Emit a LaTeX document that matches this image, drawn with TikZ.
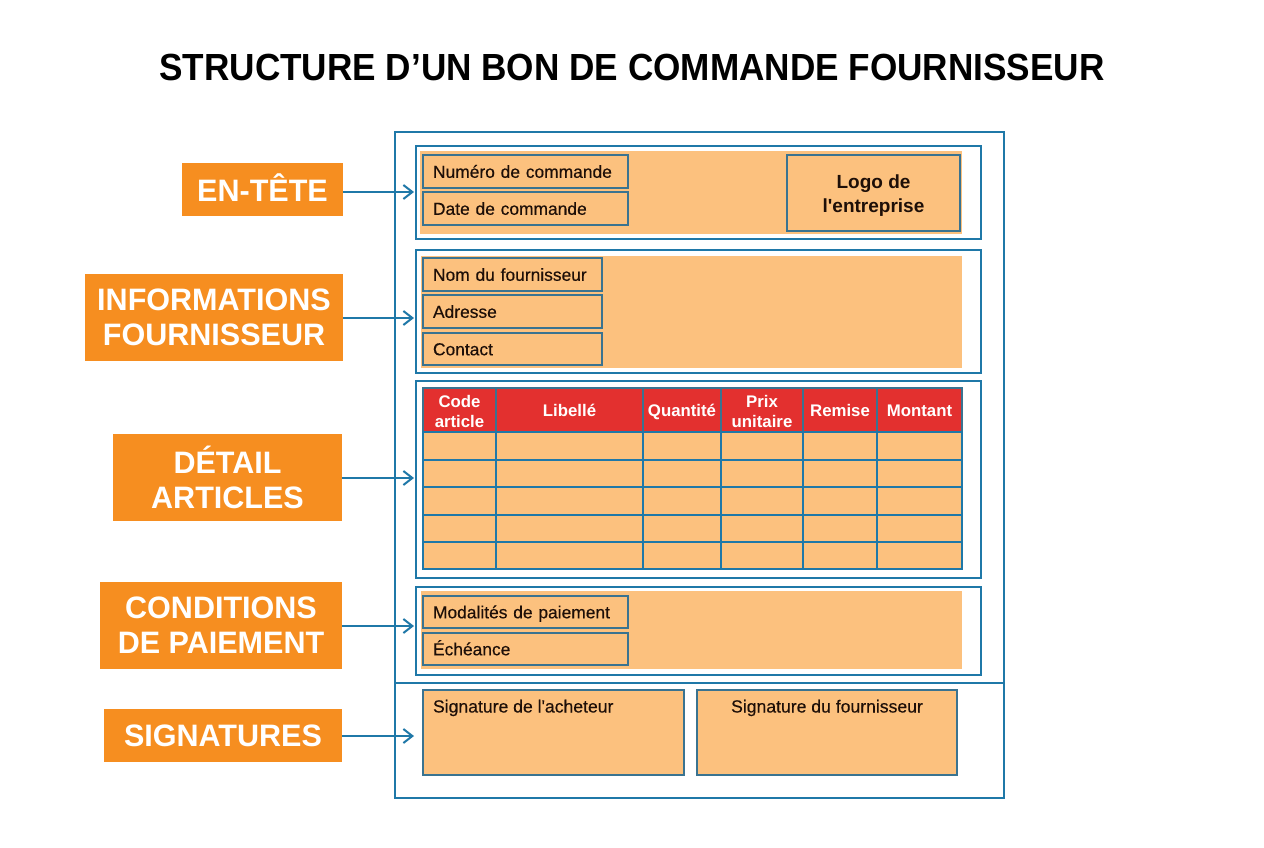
\documentclass[tikz,border=0pt]{standalone}
\usepackage{fontspec}
\usetikzlibrary{arrows.meta}
\setmainfont{Liberation Sans}
\newfontfamily\medf[FakeBold=0.3]{Liberation Sans}
\newfontfamily\plainf{Liberation Sans}
\newfontfamily\titlef[FakeStretch=0.93]{Liberation Sans}
\newfontfamily\labelf[FakeStretch=0.985]{Liberation Sans}
\definecolor{frameblue}{HTML}{1F78A8}
\definecolor{fieldline}{HTML}{3A7390}
\definecolor{fillorange}{HTML}{FCC17E}
\definecolor{labelorange}{HTML}{F68E20}
\definecolor{headred}{HTML}{E3302F}
\definecolor{inkdark}{HTML}{1E0F08}
\newcommand\oneline[1]{\rule[-4pt]{0pt}{20pt}#1}
\newcommand\twoline[2]{\rule{0pt}{15.5pt}#1\\#2}
\tikzset{
  x=1pt,y=-1pt,
  every node/.style={inner sep=0pt,outer sep=0pt},
  framebox/.style={draw=frameblue,line width=2pt,fill=white},
  fillbox/.style={fill=fillorange},
  fieldbox/.style={draw=fieldline,line width=2.2pt,fill=fillorange,text=inkdark,font=\medf\fontsize{17.4}{20}\selectfont,align=left,text width=\boxtw pt,text height=16pt,text depth=3.4pt},
  logobox/.style={draw=fieldline,line width=2.2pt,fill=fillorange,text=inkdark,font=\plainf\bfseries\fontsize{19}{24}\selectfont,align=center},
  signbox/.style={draw=fieldline,line width=2.2pt,fill=fillorange},
  signtext/.style={text=inkdark,font=\medf\fontsize{17.6}{20}\selectfont},
  headcell/.style={draw=fieldline,line width=1.6pt,fill=headred,text=white,font=\bfseries\fontsize{16.8}{19.5}\selectfont,align=center},
  bodycell/.style={draw=frameblue,line width=1.8pt,fill=fillorange},
  sectionlabel/.style={fill=labelorange,text=white,font=\labelf\bfseries\fontsize{31}{35}\selectfont,align=center},
  pointer/.style={draw=frameblue,line width=2pt,-{Straight Barb[length=9pt,width=14pt,line width=2pt]}},
  dividerline/.style={draw=frameblue,line width=2pt},
}
\newcommand\bx[7][]{%
  \pgfmathsetmacro\boxcx{(#3+#5)/2}%
  \pgfmathsetmacro\boxcy{(#4+#6)/2}%
  \pgfmathsetmacro\boxw{#5-#3}%
  \pgfmathsetmacro\boxh{#6-#4}%
  \pgfmathsetmacro\boxtw{#5-#3-20}%
  \node[#1,minimum width=\boxw pt,minimum height=\boxh pt] (#2) at (\boxcx,\boxcy) {#7};%
}
\begin{document}
\begin{tikzpicture}
\useasboundingbox (0,0) rectangle (1264,848);
\node[font=\titlef\bfseries\fontsize{37.8}{40}\selectfont,text=black] (title) at (632,67.5) {STRUCTURE D’UN BON DE COMMANDE FOURNISSEUR};

% frame and sections
\bx[framebox]{outer}{395}{132}{1004}{798}{}
\bx[framebox]{secA}{416}{146}{981}{239}{}
\bx[framebox]{secB}{416}{250}{981}{373}{}
\bx[framebox]{secC}{416}{381}{981}{578}{}
\bx[framebox]{secD}{416}{587}{981}{675}{}
\coordinate (divL) at (395,683);
\coordinate (divR) at (1004,683);
\draw[dividerline] (divL) -- (divR);

% orange backgrounds
\bx[fillbox]{fillA}{420}{151}{962}{234}{}
\bx[fillbox]{fillB}{421}{256}{962}{368}{}
\bx[fillbox]{fillD}{421}{591}{962}{669}{}

% fields
\bx[fieldbox]{num}{423}{155}{628}{188}{Numéro de commande}
\bx[fieldbox]{date}{423}{192}{628}{225}{Date de commande}
\bx[logobox]{logo}{787}{155}{960}{231}{\rule{0pt}{19pt}Logo de\\l'entreprise}
\bx[fieldbox]{nom}{423}{258}{602}{291}{Nom du fournisseur}
\bx[fieldbox]{adr}{423}{295}{602}{328}{Adresse}
\bx[fieldbox]{con}{423}{333}{602}{365}{Contact}
\bx[fieldbox]{mod}{423}{596}{628}{628}{Modalités de paiement}
\bx[fieldbox]{ech}{423}{633}{628}{665}{Échéance}

% signatures
\bx[signbox]{sigA}{423}{690}{684}{775}{}
\bx[signbox]{sigB}{697}{690}{957}{775}{}
\node[signtext,anchor=base west] (sigAt) at (433,712.5) {Signature de l'acheteur};
\node[signtext,anchor=base] (sigBt) at (827,712.5) {Signature du fournisseur};

% table
\bx[headcell]{h1}{423}{388}{496}{432}{\twoline{Code}{article}}
\bx[headcell]{h2}{496}{388}{643}{432}{\oneline{Libellé}}
\bx[headcell]{h3}{643}{388}{721}{432}{\oneline{Quantité}}
\bx[headcell]{h4}{721}{388}{803}{432}{\twoline{Prix}{unitaire}}
\bx[headcell]{h5}{803}{388}{877}{432}{\oneline{Remise}}
\bx[headcell]{h6}{877}{388}{962}{432}{\oneline{Montant}}
\foreach \ya/\yb/\r in {432/460/1,460/487/2,487/515/3,515/542/4,542/569/5}{
  \foreach \xa/\xb/\c in {423/496/1,496/643/2,643/721/3,721/803/4,803/877/5,877/962/6}{
    \bx[bodycell]{c\r\c}{\xa}{\ya}{\xb}{\yb}{}
  }
}

% labels
\bx[sectionlabel]{labA}{182}{163}{343}{216}{\raisebox{3pt}{EN-TÊTE}}
\bx[sectionlabel]{labB}{85}{274}{343}{361}{INFORMATIONS\\FOURNISSEUR}
\bx[sectionlabel]{labC}{113}{434}{342}{521}{DÉTAIL\\ARTICLES}
\bx[sectionlabel]{labD}{100}{582}{342}{669}{CONDITIONS\\DE PAIEMENT}
\bx[sectionlabel]{labE}{104}{709}{342}{762}{SIGNATURES}

% pointers
\coordinate (tipA) at (414,192);
\coordinate (tipB) at (414,318);
\coordinate (tipC) at (414,478);
\coordinate (tipD) at (414,626);
\coordinate (tipE) at (414,736);
\draw[pointer] (labA.east |- tipA) -- (tipA);
\draw[pointer] (labB.east |- tipB) -- (tipB);
\draw[pointer] (labC.east |- tipC) -- (tipC);
\draw[pointer] (labD.east |- tipD) -- (tipD);
\draw[pointer] (labE.east |- tipE) -- (tipE);
\end{tikzpicture}
\end{document}
